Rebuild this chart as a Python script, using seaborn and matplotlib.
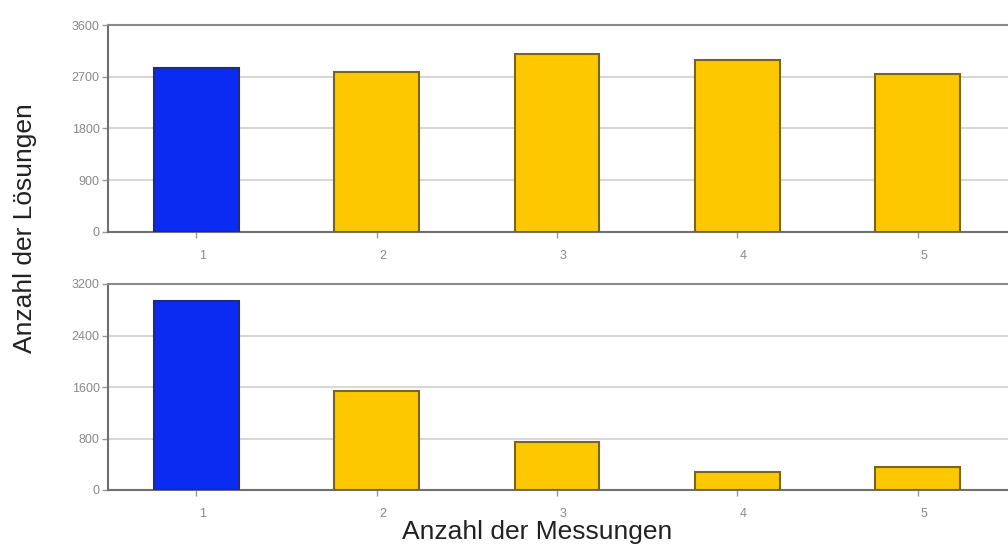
import pandas as pd
import seaborn as sns
import matplotlib.pyplot as plt
import matplotlib.transforms as mtrans

# data
messungen = ['1', '2', '3', '4', '5']
loesungen_oben = [2850, 2780, 3090, 2990, 2750]
loesungen_unten = [2930, 1540, 750, 285, 360]
farben = ['#0a2cf2', '#fdc800', '#fdc800', '#fdc800', '#fdc800']
kanten = ['#1a2a90', '#7a6520', '#7a6520', '#7a6520', '#7a6520']

yticks_oben = [0, 900, 1800, 2700, 3600]
yticks_unten = [0, 800, 1600, 2400, 3200]

sns.set_theme(style='white')
plt.rcParams['font.family'] = ['Liberation Sans', 'DejaVu Sans']

fig = plt.figure(figsize=(10.08, 5.48), dpi=100)
ax1 = fig.add_axes([108 / 1008, 1 - 232 / 548, 900 / 1008, 207 / 548])
ax2 = fig.add_axes([108 / 1008, 1 - 490 / 548, 900 / 1008, 206 / 548])


def panel(ax, werte, yticks):
    df = pd.DataFrame({'Messungen': messungen, 'Loesungen': werte})
    sns.barplot(data=df, x='Messungen', y='Loesungen', hue='Messungen',
                palette=farben, saturation=1, legend=False, width=0.47, ax=ax, zorder=3)
    for bar, kante in zip(ax.patches, kanten):
        bar.set_edgecolor(kante)
        bar.set_linewidth(1.5)
    ax.set_xlim(-0.49, 4.5)
    ax.set_ylim(yticks[0], yticks[-1])
    ax.set_yticks(yticks)
    ax.yaxis.grid(True, color='#d8d8d8', linewidth=1.5, zorder=0)
    ax.set_axisbelow(True)
    for s in ['left', 'bottom', 'top']:
        ax.spines[s].set_color('#707070')
        ax.spines[s].set_linewidth(1.5)
    ax.spines['top'].set_color('#8a8a8a')
    ax.spines['right'].set_visible(False)
    ax.tick_params(axis='both', labelsize=9, labelcolor='#8a8a8a', colors='#9a9a9a',
                   length=4, width=1, left=True, bottom=True)
    ax.tick_params(axis='y', pad=2)
    ax.tick_params(axis='x', pad=9)
    shift = mtrans.ScaledTranslation(6 / 100, 0, fig.dpi_scale_trans)
    for lab in ax.get_xticklabels():
        lab.set_transform(lab.get_transform() + shift)
    ax.set_xlabel('')
    ax.set_ylabel('')


panel(ax1, loesungen_oben, yticks_oben)
panel(ax2, loesungen_unten, yticks_unten)

fig.text(25 / 1008, 1 - 228 / 548, 'Anzahl der Lösungen', rotation=90,
         ha='center', va='center', fontsize=19, color='#222222')
fig.text(537 / 1008, 1 - 532 / 548, 'Anzahl der Messungen',
         ha='center', va='center', fontsize=19, color='#222222')

fig.savefig('out.png', dpi=100)
